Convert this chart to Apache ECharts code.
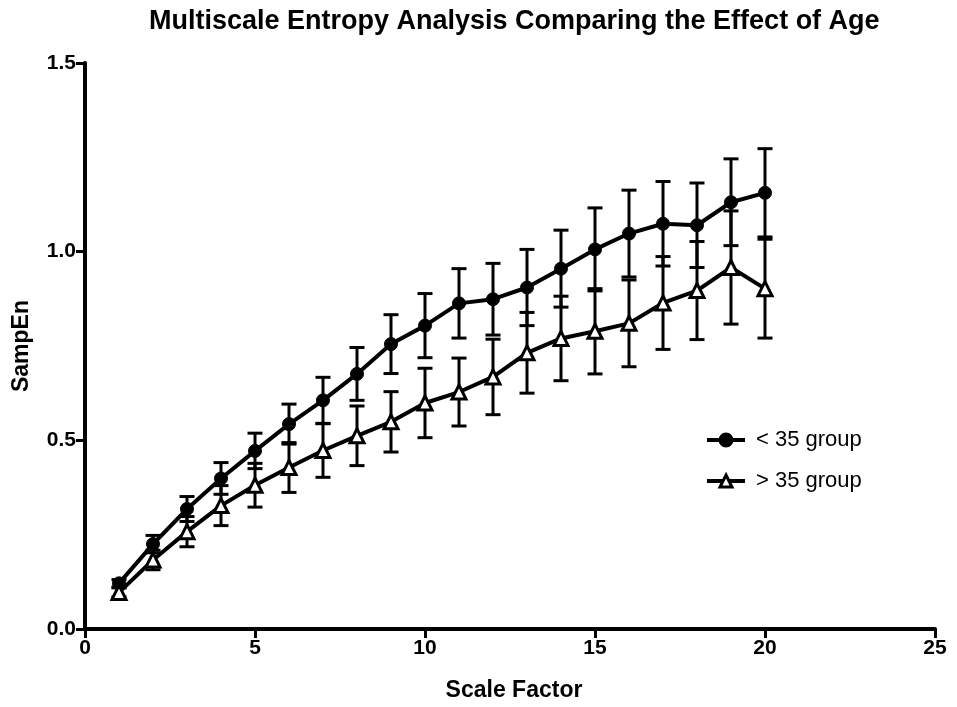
<!DOCTYPE html>
<html>
<head>
<meta charset="utf-8">
<script src="https://cdn.jsdelivr.net/npm/echarts@6/dist/echarts.min.js"></script>
<style>html,body{margin:0;padding:0;background:#fff;}#c{width:957px;height:707px;}</style>
</head>
<body>
<div id="c"></div>
<script>
const scaleFactor = [1,2,3,4,5,6,7,8,9,10,11,12,13,14,15,16,17,18,19,20];
const youngMean = [0.121,0.225,0.318,0.399,0.472,0.543,0.606,0.676,0.755,0.804,0.863,0.874,0.905,0.955,1.006,1.048,1.074,1.070,1.131,1.156];
const youngErr  = [0.010,0.023,0.033,0.042,0.047,0.053,0.061,0.070,0.078,0.085,0.092,0.095,0.101,0.102,0.110,0.115,0.112,0.112,0.115,0.117];
const oldMean   = [0.097,0.183,0.258,0.327,0.381,0.428,0.473,0.512,0.549,0.599,0.628,0.668,0.732,0.770,0.789,0.810,0.864,0.897,0.958,0.902];
const oldErr    = [0.012,0.026,0.040,0.053,0.058,0.066,0.071,0.079,0.080,0.092,0.090,0.100,0.107,0.112,0.113,0.115,0.123,0.130,0.150,0.131];
const xTicks = [0,5,10,15,20,25];
const yTicks = [0.0,0.5,1.0,1.5];

const FONT = 'Liberation Sans';
const chart = echarts.init(document.getElementById('c'));

function errData(mean, err){
  return scaleFactor.map((x,i)=>[x, mean[i]-err[i], mean[i]+err[i]]);
}
function errRender(params, api){
  const x = api.value(0), lo = api.value(1), hi = api.value(2);
  const pL = api.coord([x, lo]), pH = api.coord([x, hi]);
  const hw = 7.5;
  const st = {stroke:'#000', lineWidth:3};
  return {type:'group', children:[
    {type:'line', shape:{x1:pH[0], y1:pH[1], x2:pL[0], y2:pL[1]}, style:st},
    {type:'line', shape:{x1:pH[0]-hw, y1:pH[1], x2:pH[0]+hw, y2:pH[1]}, style:st},
    {type:'line', shape:{x1:pL[0]-hw, y1:pL[1], x2:pL[0]+hw, y2:pL[1]}, style:st}
  ]};
}

chart.setOption({
  backgroundColor:'#fff',
  animation:false,
  title:{
    text:'Multiscale Entropy Analysis Comparing the Effect of Age',
    left:144, top:3,
    textStyle:{fontFamily:FONT, fontWeight:'bold', fontSize:27, color:'#000'}
  },
  legend:{
    orient:'vertical', left:700, top:424,
    itemWidth:38, itemHeight:15, itemGap:19,
    data:['< 35 group','> 35 group'],
    lineStyle:{width:4, color:'#000'},
    itemStyle:{borderWidth:3, borderColor:'#000'},
    textStyle:{fontFamily:FONT, fontSize:22, color:'#000', padding:[0,0,0,6]}
  },
  grid:{left:85, right:22, top:63, bottom:76, containLabel:false},
  xAxis:{
    type:'value', min:xTicks[0], max:xTicks[xTicks.length-1], interval:5,
    name:'Scale Factor', nameLocation:'middle', nameGap:50,
    nameTextStyle:{fontFamily:FONT, fontWeight:'bold', fontSize:23, color:'#000', padding:[0,0,0,8]},
    axisLine:{show:true, onZero:false, lineStyle:{color:'#000', width:4}},
    axisTick:{show:true, length:9, lineStyle:{color:'#000', width:3}},
    axisLabel:{fontFamily:FONT, fontWeight:'bold', fontSize:21, color:'#000', margin:9},
    splitLine:{show:false}
  },
  yAxis:{
    type:'value', min:yTicks[0], max:yTicks[yTicks.length-1], interval:0.5,
    name:'SampEn', nameLocation:'middle', nameGap:52,
    nameTextStyle:{fontFamily:FONT, fontWeight:'bold', fontSize:23, color:'#000'},
    axisLine:{show:true, onZero:false, lineStyle:{color:'#000', width:4}},
    axisTick:{show:true, length:9, lineStyle:{color:'#000', width:3}},
    axisLabel:{fontFamily:FONT, fontWeight:'bold', fontSize:21, color:'#000', margin:9,
      formatter:v=>v.toFixed(1)},
    splitLine:{show:false}
  },
  series:[
    {type:'custom', name:'err1', renderItem:errRender, data:errData(youngMean,youngErr), z:1, silent:true},
    {type:'custom', name:'err2', renderItem:errRender, data:errData(oldMean,oldErr), z:1, silent:true},
    {type:'line', name:'< 35 group', data:scaleFactor.map((x,i)=>[x,youngMean[i]]),
      symbol:'circle', symbolSize:13, z:3,
      lineStyle:{color:'#000', width:4}, itemStyle:{color:'#000', borderColor:'#000'}},
    {type:'line', name:'> 35 group', data:scaleFactor.map((x,i)=>[x,oldMean[i]]),
      symbol:'triangle', symbolSize:14, z:3,
      lineStyle:{color:'#000', width:4}, itemStyle:{color:'#fff', borderColor:'#000', borderWidth:3}}
  ]
});
</script>
</body>
</html>
